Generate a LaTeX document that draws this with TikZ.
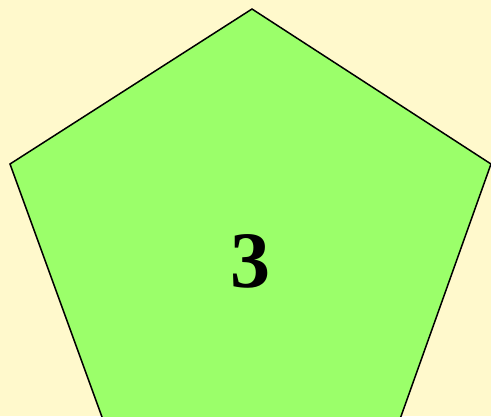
\documentclass[tikz,border=0pt]{standalone}
\usepackage{fontspec}
\setmainfont{Liberation Serif}
\usetikzlibrary{positioning}
\definecolor{paper}{RGB}{255,249,204}
\definecolor{leaf}{RGB}{155,255,106}
\tikzset{
    pentagonface/.style={fill=leaf, draw=black, line width=1.5pt, line join=miter},
    bignumber/.style={inner sep=0pt, font=\fontsize{80}{80}\selectfont\bfseries},
}
\begin{document}
\begin{tikzpicture}[x=1pt, y=-1pt]
        % Canvas
        \useasboundingbox (0,0) rectangle (491,416);
        \fill[paper] (0,0) rectangle (491,416);
        \clip (0,0) rectangle (491,416);

        % Corners
        \coordinate (top) at (252,9);
        \coordinate (left) at (10,164);
        \coordinate (right) at (491,164);
        \coordinate (lowleft) at (114,450);
        \coordinate (lowright) at (389,450);

        % Pentagon
        \draw[pentagonface] (top) -- (right) -- (lowright) -- (lowleft) -- (left) -- cycle;

        % Label
        \node[bignumber] (num) at (250,261) {3};
\end{tikzpicture}
\end{document}
